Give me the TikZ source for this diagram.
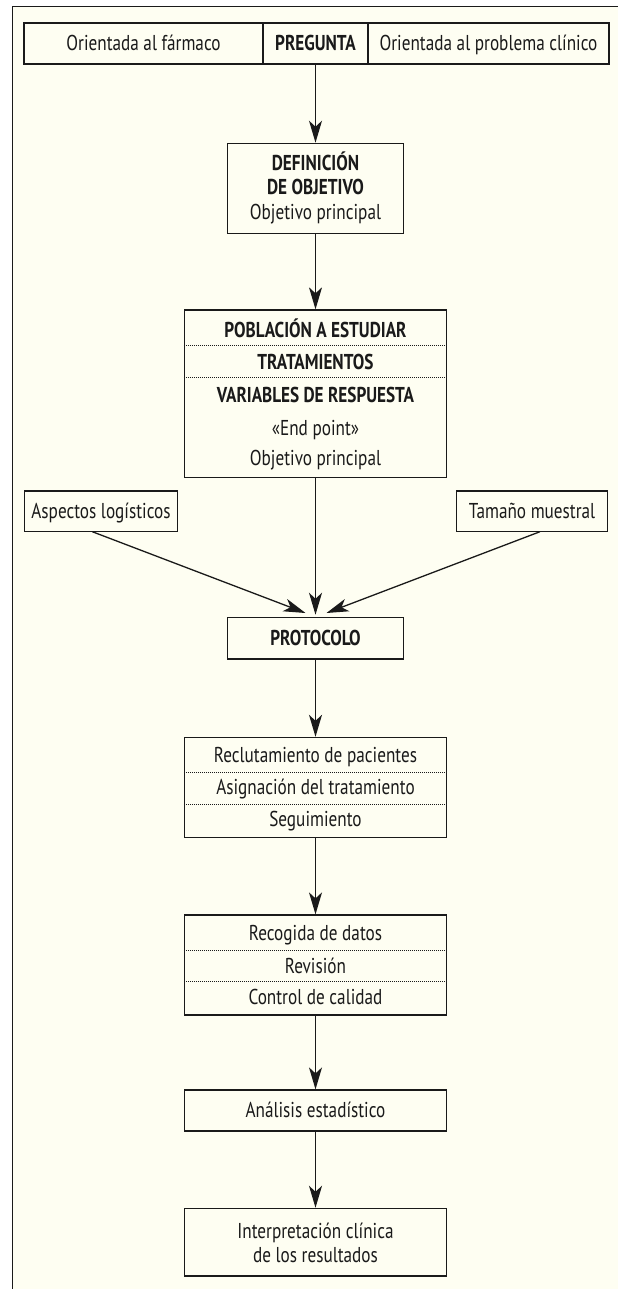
\documentclass[tikz,border=0pt]{standalone}
\usepackage{fontspec}
\setmainfont[FakeStretch=0.8]{PT Sans}
\usetikzlibrary{arrows.meta}
\definecolor{cream}{HTML}{FEFEF2}
\definecolor{ink}{HTML}{1A1A1A}
\begin{document}
\begin{tikzpicture}[x=1pt,y=-1pt,
  box/.style={draw=ink,line width=1.2pt,fill=cream,inner sep=0pt,rectangle},
  lbl/.style={inner sep=0pt,text height=14.6pt,text depth=0pt,font=\fontsize{21.5}{24}\selectfont,text=ink},
  blbl/.style={lbl,font=\fontsize{21.5}{24}\selectfont\bfseries},
  arr/.style={draw=ink,line width=1.3pt,-{Stealth[length=22pt,width=13pt,inset=6pt]}},
  dotl/.style={draw=ink,line width=0.7pt,dash pattern=on 0.8pt off 1.2pt}]
\useasboundingbox (0,0) rectangle (618,1289);
\fill[cream] (12.5,6.7) rectangle (618,1289);
\draw[ink,line width=1.2pt] (12.5,1289) -- (12.5,6.7) -- (618,6.7);

% top row
\node[box,lbl,minimum width=239pt,minimum height=41pt] (farm) at (143.5,43.5) {Orientada al fármaco};
\node[box,blbl,minimum width=105pt,minimum height=41pt] (preg) at (315.5,43.5) {PREGUNTA};
\node[box,lbl,minimum width=241pt,minimum height=41pt] (prob) at (488.5,43.5) {Orientada al problema clínico};

% definicion
\node[box,minimum width=175.6pt,minimum height=90pt] (def) at (315.5,188.3) {};
\node[blbl] (def1) at (315.5,163.3) {DEFINICIÓN};
\node[blbl] (def2) at (315.5,187.7) {DE OBJETIVO};
\node[lbl] (def3) at (315.5,212.7) {Objetivo principal};

% poblacion
\node[box,minimum width=262pt,minimum height=167.5pt] (pob) at (315.5,393.7) {};
\node[blbl] (pob1) at (315.5,330) {POBLACIÓN A ESTUDIAR};
\node[blbl] (pob2) at (315.5,361.7) {TRATAMIENTOS};
\node[blbl] (pob3) at (315.5,395) {VARIABLES DE RESPUESTA};
\node[lbl] (pob4) at (315.5,427.7) {«End point»};
\node[lbl] (pob5) at (315.5,458.3) {Objetivo principal};
\draw[dotl] (pob.west |- 0,345) -- (pob.east |- 0,345);
\draw[dotl] (pob.west |- 0,377.3) -- (pob.east |- 0,377.3);

% side boxes
\node[box,lbl,minimum width=153.4pt,minimum height=40.7pt] (la) at (101,511.3) {Aspectos logísticos};
\node[box,lbl,minimum width=151pt,minimum height=40.7pt] (ra) at (532,511.3) {Tamaño muestral};

% protocolo
\node[box,blbl,minimum width=176pt,minimum height=41.7pt] (proto) at (315.5,638.2) {PROTOCOLO};

% reclutamiento
\node[box,minimum width=262pt,minimum height=100pt] (rec) at (315.5,787.4) {};
\node[lbl] (rec1) at (315.5,755) {Reclutamiento de pacientes};
\node[lbl] (rec2) at (315.5,787.3) {Asignación del tratamiento};
\node[lbl] (rec3) at (315.5,819.3) {Seguimiento};
\draw[dotl] (rec.west |- 0,772.3) -- (rec.east |- 0,772.3);
\draw[dotl] (rec.west |- 0,804) -- (rec.east |- 0,804);

% recogida
\node[box,minimum width=262pt,minimum height=100pt] (rg) at (315.5,965) {};
\node[lbl] (rg1) at (315.5,933.3) {Recogida de datos};
\node[lbl] (rg2) at (315.5,965.7) {Revisión};
\node[lbl] (rg3) at (315.5,996.7) {Control de calidad};
\draw[dotl] (rg.west |- 0,950) -- (rg.east |- 0,950);
\draw[dotl] (rg.west |- 0,981.7) -- (rg.east |- 0,981.7);

% analisis
\node[box,lbl,minimum width=262pt,minimum height=41pt] (an) at (315.5,1110.5) {Análisis estadístico};

% interpretacion
\node[box,minimum width=262pt,minimum height=67.7pt] (int) at (315.5,1242.2) {};
\node[lbl] (int1) at (315.5,1230.7) {Interpretación clínica};
\node[lbl] (int2) at (315.5,1255) {de los resultados};

% connectors
\coordinate (ls) at (92.3,531.7);
\coordinate (le) at (305.5,613);
\coordinate (rs) at (540,531.7);
\coordinate (re) at (326.5,613);
\draw[arr] (preg.south) -- (def.north);
\draw[arr] (def.south) -- (pob.north);
\draw[arr,shorten >=2pt] (pob.south) -- (proto.north);
\draw[arr] (ls) -- (le);
\draw[arr] (rs) -- (re);
\draw[arr] (proto.south) -- (rec.north);
\draw[arr] (rec.south) -- (rg.north);
\draw[arr] (rg.south) -- (an.north);
\draw[arr] (an.south) -- (int.north);
\end{tikzpicture}
\end{document}
